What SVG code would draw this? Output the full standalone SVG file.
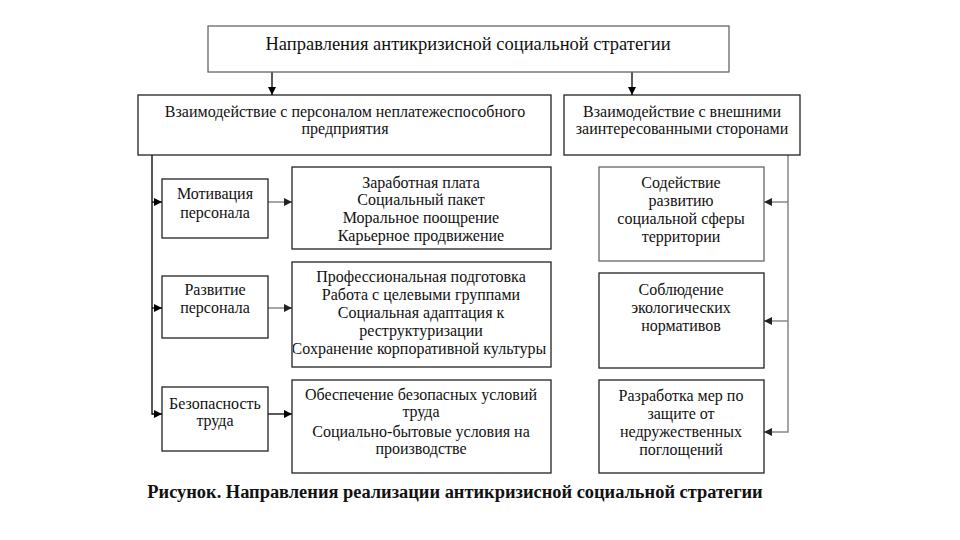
<svg xmlns="http://www.w3.org/2000/svg" width="960" height="540" viewBox="0 0 960 540">
<defs>
<marker id="ah" viewBox="0 0 10 10" refX="10" refY="5" markerWidth="8" markerHeight="8" markerUnits="userSpaceOnUse" orient="auto"><path d="M0,0 L10,5 L0,10 z" fill="#000"/></marker>
<marker id="ahg" viewBox="0 0 10 10" refX="10" refY="5" markerWidth="8" markerHeight="8" markerUnits="userSpaceOnUse" orient="auto"><path d="M0,0 L10,5 L0,10 z" fill="#222"/></marker>
<clipPath id="clipdev"><rect x="293" y="263" width="257" height="103"/></clipPath>
</defs>
<style>
.b{fill:#fff;stroke:#222;stroke-width:1.3}
.bg{fill:#fff;stroke:#666;stroke-width:1.3}
text{font-family:'Liberation Serif','DejaVu Serif',serif;font-size:16px;fill:#111;text-anchor:middle}
.t{font-size:18.5px}
.cap{font-size:18.4px;font-weight:bold}
.c{fill:none;stroke:#000;stroke-width:1.3}
.cg{fill:none;stroke:#888;stroke-width:1.5}
</style>
<rect width="960" height="540" fill="#fff"/>
<g id="connectors">
<line class="c" x1="272" y1="72" x2="272" y2="95" marker-end="url(#ah)"/>
<line class="c" x1="632" y1="72" x2="632" y2="95" marker-end="url(#ah)"/>
<polyline class="c" points="152,155 152,414 162,414" marker-end="url(#ah)"/>
<line class="c" x1="152" y1="202" x2="162" y2="202" marker-end="url(#ah)"/>
<line class="c" x1="152" y1="308" x2="162" y2="308" marker-end="url(#ah)"/>
<line class="cg" x1="268" y1="202" x2="292" y2="202" marker-end="url(#ahg)"/>
<line class="cg" x1="268" y1="308" x2="292" y2="308" marker-end="url(#ahg)"/>
<line class="c" x1="268" y1="414" x2="292" y2="414" marker-end="url(#ah)"/>
<polyline class="cg" points="788,155 788,432 764,432" marker-end="url(#ahg)"/>
<line class="cg" x1="788" y1="202" x2="764" y2="202" marker-end="url(#ahg)"/>
<line class="cg" x1="788" y1="321" x2="764" y2="321" marker-end="url(#ahg)"/>
</g>
<g id="top">
<rect class="bg" x="208" y="26" width="521" height="46"/>
<text class="t" x="468" y="50">Направления антикризисной социальной стратегии</text>
</g>
<g id="personnel">
<rect class="b" x="138" y="95" width="413" height="60"/>
<text x="345" y="117">Взаимодействие с персоналом неплатежеспособного</text>
<text x="345" y="134">предприятия</text>
</g>
<g id="external">
<rect class="b" x="564" y="95" width="236" height="60"/>
<text x="682" y="117">Взаимодействие с внешними</text>
<text x="682" y="134">заинтересованными сторонами</text>
</g>
<g id="motivation">
<rect class="b" x="162" y="179" width="106" height="59"/>
<text x="215" y="199">Мотивация</text>
<text x="215" y="218">персонала</text>
</g>
<g id="development">
<rect class="b" x="162" y="276" width="106" height="62"/>
<text x="215" y="295">Развитие</text>
<text x="215" y="313">персонала</text>
</g>
<g id="safety">
<rect class="b" x="162" y="387" width="106" height="64"/>
<text x="215" y="409">Безопасность</text>
<text x="215" y="426">труда</text>
</g>
<g id="motivation-list">
<rect class="b" x="292" y="167" width="259" height="82"/>
<text x="421" y="188">Заработная плата</text>
<text x="421" y="205">Социальный пакет</text>
<text x="421" y="223">Моральное поощрение</text>
<text x="421" y="241">Карьерное продвижение</text>
</g>
<g id="development-list">
<rect class="b" x="292" y="262" width="259" height="105"/>
<text x="421" y="282">Профессиональная подготовка</text>
<text x="421" y="300">Работа с целевыми группами</text>
<text x="421" y="318">Социальная адаптация к</text>
<text x="421" y="336">реструктуризации</text>
<text x="419" y="354" clip-path="url(#clipdev)">Сохранение корпоративной культуры</text>
</g>
<g id="safety-list">
<rect class="b" x="292" y="380" width="259" height="93"/>
<text x="421" y="400">Обеспечение безопасных условий</text>
<text x="421" y="417">труда</text>
<text x="421" y="437">Социально-бытовые условия на</text>
<text x="421" y="454">производстве</text>
</g>
<g id="social-sphere">
<rect class="bg" x="599" y="167" width="165" height="94"/>
<text x="681" y="188">Содействие</text>
<text x="681" y="206">развитию</text>
<text x="681" y="224">социальной сферы</text>
<text x="681" y="242">территории</text>
</g>
<g id="ecology">
<rect class="b" x="599" y="273" width="165" height="95"/>
<text x="681" y="295">Соблюдение</text>
<text x="681" y="313">экологических</text>
<text x="681" y="331">нормативов</text>
</g>
<g id="takeover">
<rect class="b" x="599" y="380" width="165" height="93"/>
<text x="681" y="401">Разработка мер по</text>
<text x="681" y="419">защите от</text>
<text x="681" y="437">недружественных</text>
<text x="681" y="455">поглощений</text>
</g>
<text class="cap" x="455" y="498">Рисунок. Направления реализации антикризисной социальной стратегии</text>
</svg>
